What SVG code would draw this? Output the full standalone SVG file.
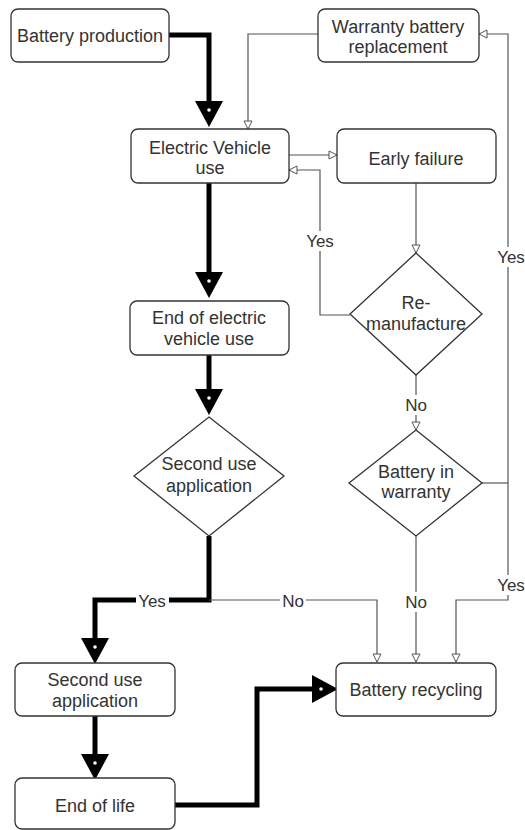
<svg xmlns="http://www.w3.org/2000/svg" width="525" height="830" viewBox="0 0 525 830">
<style>
.box{fill:#fff;stroke:#333;stroke-width:1.3}
.t{font-family:"Liberation Sans",Arial,sans-serif;font-size:18px;fill:#333;text-anchor:middle}
.lbl{font-family:"Liberation Sans",Arial,sans-serif;font-size:17px;fill:#333;text-anchor:middle}
.thick{fill:none;stroke:#000;stroke-width:5;marker-end:url(#big)}
.thin{fill:none;stroke:#555;stroke-width:1.2;marker-end:url(#open)}
.thinn{fill:none;stroke:#555;stroke-width:1.2}
.bg{fill:#fff}
</style>
<defs>
<marker id="big" markerUnits="userSpaceOnUse" viewBox="0 0 26 28" markerWidth="26" markerHeight="28" refX="0" refY="14" orient="auto">
<path d="M0,0 L26,14 L0,28 z" fill="#000"/>
<circle cx="9" cy="14" r="1.8" fill="#fff"/>
</marker>
<marker id="open" markerUnits="userSpaceOnUse" viewBox="-1 -1 10 10" markerWidth="10" markerHeight="10" refX="8" refY="4" orient="auto">
<path d="M0,0 L8,4 L0,8 z" fill="#fff" stroke="#555" stroke-width="1"/>
</marker>
</defs>
<rect width="525" height="830" fill="#fff"/>
<g id="connectors">
<path class="thick" d="M169,35 H209 V101"/>
<path class="thin" d="M318,34 H248 V129"/>
<path class="thin" d="M289,155 H337"/>
<path class="thin" d="M350,315 H320 V170 H289"/>
<path class="thin" d="M416,183 V253"/>
<path class="thick" d="M209,183 V272"/>
<path class="thick" d="M209,355 V389"/>
<path class="thin" d="M416,375 V430"/>
<path class="thinn" d="M482,483 H508"/>
<path class="thin" d="M508,483 V34 H479"/>
<path class="thin" d="M508,483 V600 H456 V662"/>
<path class="thin" d="M416,536 V662"/>
<path class="thick" d="M209,536 V600 H95 V638"/>
<path class="thin" d="M209,600 H377 V662"/>
<path class="thick" d="M95,716 V754"/>
<path class="thick" d="M175,805 H257 V689 H312"/>
<rect class="bg" x="303" y="231" width="34" height="20"/>
<text class="lbl" x="320" y="247">Yes</text>
<rect class="bg" x="494" y="247" width="31" height="20"/>
<text class="lbl" x="511" y="263">Yes</text>
<rect class="bg" x="494" y="575" width="31" height="20"/>
<text class="lbl" x="511" y="591">Yes</text>
<rect class="bg" x="403" y="395" width="26" height="20"/>
<text class="lbl" x="416" y="411">No</text>
<rect class="bg" x="403" y="592" width="26" height="20"/>
<text class="lbl" x="416" y="608">No</text>
<rect class="bg" x="136" y="591" width="33" height="20"/>
<text class="lbl" x="152" y="607">Yes</text>
<rect class="bg" x="280" y="591" width="26" height="20"/>
<text class="lbl" x="293" y="607">No</text>
</g>
<g id="battery-production">
<rect class="box" x="11" y="9" width="158" height="53" rx="7"/>
<text class="t" x="90" y="42">Battery production</text>
</g>
<g id="warranty-replacement">
<rect class="box" x="318" y="9" width="161" height="53" rx="7"/>
<text class="t" x="398" y="33">Warranty battery</text>
<text class="t" x="398" y="53">replacement</text>
</g>
<g id="ev-use">
<rect class="box" x="131" y="129" width="158" height="54" rx="7"/>
<text class="t" x="210" y="154">Electric Vehicle</text>
<text class="t" x="210" y="174">use</text>
</g>
<g id="early-failure">
<rect class="box" x="337" y="129" width="159" height="54" rx="7"/>
<text class="t" x="416" y="165">Early failure</text>
</g>
<g id="end-ev-use">
<rect class="box" x="130" y="301" width="159" height="54" rx="7"/>
<text class="t" x="209" y="324">End of electric</text>
<text class="t" x="209" y="345">vehicle use</text>
</g>
<g id="remanufacture">
<path class="box" d="M416,253 L482,314 L416,375 L350,314 z"/>
<text class="t" x="416" y="309">Re-</text>
<text class="t" x="416" y="330">manufacture</text>
</g>
<g id="second-use-decision">
<path class="box" d="M209,417 L284,476 L209,536 L134,476 z"/>
<text class="t" x="209" y="470">Second use</text>
<text class="t" x="209" y="492">application</text>
</g>
<g id="battery-in-warranty">
<path class="box" d="M416,430 L482,483 L416,536 L349,483 z"/>
<text class="t" x="416" y="478">Battery in</text>
<text class="t" x="416" y="498">warranty</text>
</g>
<g id="second-use-application">
<rect class="box" x="15" y="663" width="160" height="53" rx="7"/>
<text class="t" x="95" y="686">Second use</text>
<text class="t" x="95" y="707">application</text>
</g>
<g id="battery-recycling">
<rect class="box" x="336" y="663" width="160" height="53" rx="7"/>
<text class="t" x="416" y="696">Battery recycling</text>
</g>
<g id="end-of-life">
<rect class="box" x="15" y="778" width="160" height="51" rx="7"/>
<text class="t" x="95" y="812">End of life</text>
</g>
</svg>
